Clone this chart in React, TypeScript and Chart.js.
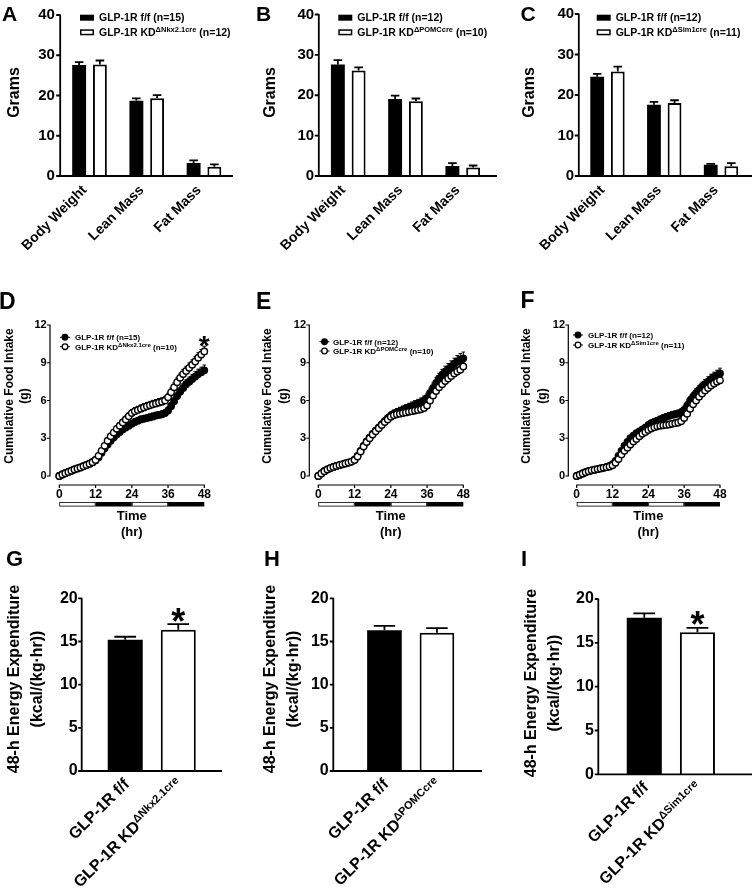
import React, { useEffect, useRef } from 'react';
import { Chart, registerables } from 'chart.js';

Chart.register(...registerables);

const FONT = "'Liberation Sans', Arial, Helvetica, sans-serif";
Chart.defaults.font.family = FONT;
Chart.defaults.font.weight = 'bold';
Chart.defaults.color = '#000';

const PAGE_W = 752;
const PAGE_H = 888;

// ================= DATA =================
const floxName = 'GLP-1R f/f';
const kdName = 'GLP-1R KD';
const nkxSup = '\u0394Nkx2.1cre';
const pomcSup = '\u0394POMCcre';
const sim1Sup = '\u0394Sim1cre';

// Panels A-C : body composition (grams)
const compCategories = ['Body Weight', 'Lean Mass', 'Fat Mass'];
const compYTicks = [0, 10, 20, 30, 40];

const aN = [15, 12];
const aFlox = [27.6, 18.7, 3.25];
const aFloxErr = [0.7, 0.6, 0.65];
const aKd = [27.7, 19.3, 2.3];
const aKdErr = [1.0, 0.8, 0.6];

const bN = [12, 10];
const bFlox = [27.6, 19.1, 2.5];
const bFloxErr = [1.1, 0.8, 0.7];
const bKd = [26.1, 18.5, 2.1];
const bKdErr = [0.8, 0.7, 0.5];

const cN = [12, 11];
const cFlox = [24.5, 17.6, 2.8];
const cFloxErr = [0.7, 0.7, 0.2];
const cKd = [25.8, 18.0, 2.4];
const cKdErr = [1.2, 0.7, 0.8];

// Panels D-F : cumulative food intake (g), hourly
const hours = [0, 1, 2, 3, 4, 5, 6, 7, 8, 9, 10, 11, 12, 13, 14, 15, 16, 17, 18, 19, 20, 21, 22, 23, 24, 25, 26, 27, 28, 29, 30, 31, 32, 33, 34, 35, 36, 37, 38, 39, 40, 41, 42, 43, 44, 45, 46, 47, 48];
const timeTicks = [0, 12, 24, 36, 48];
const intakeYTicks = [0, 3, 6, 9, 12];
const phaseStart = [0, 12, 24, 36];
const phaseEnd = [12, 24, 36, 48];
const phaseDark = [false, true, false, true];

const dN = [15, 10];
const dFlox = [0.0, 0.12, 0.22, 0.32, 0.42, 0.52, 0.6, 0.68, 0.78, 0.88, 0.98, 1.1, 1.25, 1.5, 1.85, 2.2, 2.5, 2.8, 3.05, 3.3, 3.5, 3.7, 3.85, 4.0, 4.15, 4.3, 4.4, 4.5, 4.55, 4.6, 4.67, 4.73, 4.8, 4.85, 4.9, 5.0, 5.2, 5.55, 5.95, 6.35, 6.7, 7.0, 7.3, 7.5, 7.7, 7.9, 8.1, 8.25, 8.4];
const dFloxErr = [0.02, 0.03, 0.04, 0.05, 0.05, 0.06, 0.06, 0.07, 0.07, 0.08, 0.08, 0.09, 0.1, 0.12, 0.14, 0.16, 0.18, 0.19, 0.2, 0.21, 0.22, 0.22, 0.23, 0.24, 0.24, 0.25, 0.25, 0.25, 0.26, 0.26, 0.26, 0.27, 0.27, 0.27, 0.28, 0.28, 0.29, 0.3, 0.31, 0.32, 0.33, 0.34, 0.35, 0.36, 0.37, 0.38, 0.39, 0.4, 0.42];
const dKd = [0.0, 0.12, 0.22, 0.32, 0.42, 0.52, 0.6, 0.68, 0.78, 0.88, 0.98, 1.1, 1.28, 1.6, 2.0, 2.4, 2.8, 3.15, 3.45, 3.75, 4.0, 4.25, 4.5, 4.75, 5.0, 5.15, 5.25, 5.35, 5.45, 5.55, 5.62, 5.7, 5.77, 5.84, 5.9, 6.0, 6.25, 6.65, 7.05, 7.45, 7.8, 8.1, 8.35, 8.6, 8.85, 9.1, 9.4, 9.65, 9.9];
const dKdErr = [0.02, 0.03, 0.04, 0.05, 0.06, 0.06, 0.07, 0.07, 0.08, 0.08, 0.09, 0.1, 0.1, 0.12, 0.15, 0.18, 0.2, 0.22, 0.23, 0.24, 0.25, 0.26, 0.27, 0.28, 0.28, 0.29, 0.29, 0.3, 0.3, 0.3, 0.31, 0.31, 0.31, 0.32, 0.32, 0.33, 0.33, 0.34, 0.35, 0.35, 0.36, 0.37, 0.37, 0.38, 0.38, 0.39, 0.4, 0.4, 0.41];
const dStarHours = [48];

const eN = [12, 10];
const eFlox = [0.0, 0.2, 0.38, 0.52, 0.63, 0.72, 0.8, 0.87, 0.93, 1.0, 1.07, 1.15, 1.3, 1.6, 2.0, 2.4, 2.75, 3.05, 3.35, 3.6, 3.85, 4.1, 4.35, 4.6, 4.8, 4.95, 5.05, 5.15, 5.25, 5.35, 5.45, 5.55, 5.65, 5.75, 5.85, 6.0, 6.2, 6.6, 7.0, 7.4, 7.75, 8.05, 8.3, 8.5, 8.7, 8.9, 9.1, 9.25, 9.35];
const eFloxErr = [0.03, 0.04, 0.05, 0.06, 0.06, 0.07, 0.07, 0.08, 0.08, 0.09, 0.09, 0.1, 0.11, 0.13, 0.16, 0.19, 0.21, 0.23, 0.24, 0.25, 0.26, 0.27, 0.28, 0.29, 0.3, 0.3, 0.31, 0.31, 0.32, 0.32, 0.33, 0.33, 0.34, 0.34, 0.35, 0.36, 0.37, 0.38, 0.39, 0.4, 0.41, 0.42, 0.43, 0.44, 0.45, 0.46, 0.47, 0.48, 0.5];
const eKd = [0.0, 0.2, 0.38, 0.52, 0.63, 0.72, 0.8, 0.87, 0.93, 1.0, 1.07, 1.15, 1.28, 1.55, 1.95, 2.35, 2.7, 3.0, 3.3, 3.55, 3.8, 4.05, 4.3, 4.5, 4.7, 4.82, 4.9, 4.95, 5.0, 5.05, 5.1, 5.15, 5.2, 5.25, 5.3, 5.4, 5.6, 6.0, 6.4, 6.75, 7.05, 7.3, 7.55, 7.75, 7.95, 8.15, 8.3, 8.45, 8.7];
const eKdErr = [0.03, 0.03, 0.04, 0.05, 0.05, 0.06, 0.06, 0.07, 0.07, 0.08, 0.08, 0.09, 0.1, 0.12, 0.14, 0.16, 0.18, 0.19, 0.2, 0.21, 0.22, 0.23, 0.23, 0.24, 0.25, 0.25, 0.26, 0.26, 0.26, 0.27, 0.27, 0.27, 0.28, 0.28, 0.28, 0.29, 0.29, 0.3, 0.3, 0.31, 0.31, 0.32, 0.32, 0.33, 0.33, 0.34, 0.34, 0.35, 0.35];
const eStarHours: number[] = [];

const fN = [12, 11];
const fFlox = [0.0, 0.1, 0.2, 0.3, 0.38, 0.45, 0.5, 0.55, 0.6, 0.65, 0.72, 0.8, 0.95, 1.2, 1.6, 2.0, 2.4, 2.7, 3.0, 3.2, 3.4, 3.55, 3.7, 3.85, 4.05, 4.2, 4.3, 4.4, 4.5, 4.6, 4.7, 4.78, 4.85, 4.9, 4.95, 5.05, 5.25, 5.6, 6.0, 6.3, 6.6, 6.85, 7.1, 7.3, 7.5, 7.7, 7.85, 8.0, 8.15];
const fFloxErr = [0.02, 0.03, 0.03, 0.04, 0.04, 0.05, 0.05, 0.06, 0.06, 0.07, 0.07, 0.08, 0.09, 0.11, 0.13, 0.15, 0.17, 0.18, 0.19, 0.2, 0.21, 0.22, 0.22, 0.23, 0.24, 0.24, 0.25, 0.25, 0.26, 0.26, 0.27, 0.27, 0.28, 0.28, 0.29, 0.29, 0.3, 0.31, 0.32, 0.33, 0.34, 0.35, 0.36, 0.37, 0.38, 0.39, 0.4, 0.41, 0.42];
const fKd = [0.0, 0.1, 0.2, 0.3, 0.38, 0.45, 0.5, 0.55, 0.6, 0.65, 0.7, 0.75, 0.85, 1.05, 1.35, 1.7, 2.0, 2.25, 2.5, 2.75, 2.95, 3.15, 3.35, 3.5, 3.65, 3.78, 3.88, 3.95, 4.0, 4.03, 4.06, 4.1, 4.15, 4.2, 4.25, 4.35, 4.6, 4.95, 5.35, 5.7, 6.0, 6.3, 6.55, 6.8, 7.0, 7.2, 7.35, 7.5, 7.6];
const fKdErr = [0.02, 0.02, 0.03, 0.03, 0.04, 0.04, 0.05, 0.05, 0.06, 0.06, 0.07, 0.07, 0.08, 0.1, 0.12, 0.14, 0.15, 0.16, 0.17, 0.18, 0.19, 0.2, 0.2, 0.21, 0.21, 0.22, 0.22, 0.23, 0.23, 0.23, 0.24, 0.24, 0.24, 0.25, 0.25, 0.26, 0.26, 0.27, 0.28, 0.28, 0.29, 0.3, 0.3, 0.31, 0.32, 0.32, 0.33, 0.34, 0.35];
const fStarHours: number[] = [];

// Panels G-I : 48-h energy expenditure (kcal/(kg·hr))
const eeYTicks = [0, 5, 10, 15, 20];
const gMean = [15.2, 16.35];
const gErr = [0.35, 0.65];
const gSig = ['', '*'];
const hMean = [16.3, 16.0];
const hErr = [0.5, 0.55];
const hSig = ['', ''];
const iMean = [17.85, 16.2];
const iErr = [0.5, 0.5];
const iSig = ['', '*'];

const gramsTitle = 'Grams';
const intakeTitle = ['Cumulative Food Intake', '(g)'];
const timeTitle = ['Time', '(hr)'];
const eeTitle = ['48-h Energy Expenditure', '(kcal/(kg\u00b7hr))'];

// ================= HELPERS =================
type Rich = { t: string; sup?: boolean };

function legendParts(n: number[], sup: string): Rich[][] {
  return [
    [{ t: `${floxName} (n=${n[0]})` }],
    [{ t: kdName }, { t: sup, sup: true }, { t: ` (n=${n[1]})` }],
  ];
}
function groupParts(sup: string): Rich[][] {
  return [[{ t: floxName }], [{ t: kdName }, { t: sup, sup: true }]];
}

function setFont(ctx: any, size: number) {
  ctx.font = `bold ${size}px ${FONT}`;
}
function richWidth(ctx: any, parts: Rich[], size: number, supSize: number) {
  let w = 0;
  for (const p of parts) {
    setFont(ctx, p.sup ? supSize : size);
    w += ctx.measureText(p.t).width;
  }
  return w;
}
function drawRich(ctx: any, parts: Rich[], x: number, y: number, size: number, supSize: number) {
  let cx = x;
  ctx.textAlign = 'left';
  ctx.textBaseline = 'alphabetic';
  for (const p of parts) {
    setFont(ctx, p.sup ? supSize : size);
    ctx.fillText(p.t, cx, p.sup ? y - size * 0.36 : y);
    cx += ctx.measureText(p.t).width;
  }
}

function drawErrors(chart: any, cfg: any) {
  const ctx = chart.ctx;
  const ys = chart.scales.y;
  ctx.save();
  ctx.strokeStyle = '#000';
  ctx.lineWidth = cfg.errWidth;
  chart.data.datasets.forEach((ds: any, di: number) => {
    if (!ds.errors) return;
    const meta = chart.getDatasetMeta(di);
    meta.data.forEach((el: any, i: number) => {
      const raw = ds.data[i];
      const v = typeof raw === 'number' ? raw : raw.y;
      const e = ds.errors[i];
      if (e == null) return;
      const x = el.x;
      const y0 = ys.getPixelForValue(v);
      const y1 = ys.getPixelForValue(v + e);
      const half = cfg.capHalf != null ? cfg.capHalf : el.width * cfg.capFrac;
      ctx.beginPath();
      ctx.moveTo(x, y0);
      ctx.lineTo(x, y1);
      ctx.moveTo(x - half, y1);
      ctx.lineTo(x + half, y1);
      ctx.stroke();
    });
  });
  ctx.restore();
}

function makePrism(cfg: any) {
  return {
    id: 'prism',
    beforeDatasetsDraw(chart: any) {
      if (cfg.errorsBelow) drawErrors(chart, cfg);
    },
    afterDatasetsDraw(chart: any) {
      if (!cfg.errorsBelow) drawErrors(chart, cfg);
    },
    afterDraw(chart: any) {
      const ctx = chart.ctx;
      const xs = chart.scales.x;
      const ys = chart.scales.y;
      ctx.save();
      ctx.fillStyle = '#000';
      ctx.strokeStyle = '#000';

      // ---- axes ----
      ctx.lineWidth = cfg.axisWidth;
      const yT = cfg.yTicks;
      const yTopPx = ys.getPixelForValue(yT[yT.length - 1]);
      const yBotPx = ys.getPixelForValue(yT[0]);
      const xAxisY = cfg.xAxisY != null ? cfg.xAxisY : yBotPx;
      ctx.beginPath();
      ctx.moveTo(cfg.yAxisX, yTopPx - 0.5);
      ctx.lineTo(cfg.yAxisX, cfg.xAxisY != null ? yBotPx + 0.5 : yBotPx + cfg.axisWidth / 2);
      for (const v of yT) {
        const py = ys.getPixelForValue(v);
        ctx.moveTo(cfg.yAxisX - cfg.yTickLen, py);
        ctx.lineTo(cfg.yAxisX, py);
      }
      if (cfg.xTicks) {
        const x0 = xs.getPixelForValue(cfg.xTicks[0]);
        const x1 = xs.getPixelForValue(cfg.xTicks[cfg.xTicks.length - 1]);
        ctx.moveTo(x0 - 0.5, xAxisY);
        ctx.lineTo(x1 + 0.5, xAxisY);
        for (const v of cfg.xTicks) {
          const px = xs.getPixelForValue(v);
          ctx.moveTo(px, xAxisY);
          ctx.lineTo(px, xAxisY + cfg.xTickLen);
        }
      } else {
        ctx.moveTo(cfg.yAxisX - cfg.axisWidth / 2, xAxisY);
        ctx.lineTo(cfg.xAxisRight, xAxisY);
      }
      ctx.stroke();

      // ---- light/dark phase bar ----
      if (cfg.phase) {
        const ph = cfg.phase;
        ctx.lineWidth = 0.8;
        for (let i = 0; i < ph.starts.length; i++) {
          const a = xs.getPixelForValue(ph.starts[i]);
          const b = xs.getPixelForValue(ph.ends[i]);
          if (ph.dark[i]) ctx.fillRect(a, ph.y, b - a, ph.h);
          else ctx.strokeRect(a + 0.4, ph.y + 0.4, b - a - 0.8, ph.h - 0.8);
        }
      }

      // ---- legend ----
      if (cfg.legend) {
        const L = cfg.legend;
        L.parts.forEach((parts: Rich[], i: number) => {
          const cy = L.rows[i];
          const filled = i === 0;
          if (L.marker === 'rect') {
            if (filled) {
              ctx.fillStyle = '#000';
              ctx.fillRect(L.mx, cy - L.mh / 2, L.mw, L.mh);
            } else {
              ctx.lineWidth = 1.5;
              ctx.fillStyle = '#fff';
              ctx.fillRect(L.mx, cy - L.mh / 2, L.mw, L.mh);
              ctx.strokeRect(L.mx + 0.75, cy - L.mh / 2 + 0.75, L.mw - 1.5, L.mh - 1.5);
            }
          } else {
            ctx.lineWidth = 1;
            ctx.beginPath();
            ctx.moveTo(L.mx - 5, cy);
            ctx.lineTo(L.mx + 5, cy);
            ctx.stroke();
            ctx.beginPath();
            ctx.arc(L.mx, cy, L.r, 0, Math.PI * 2);
            ctx.fillStyle = filled ? '#000' : '#fff';
            ctx.fill();
            ctx.lineWidth = 1.3;
            ctx.stroke();
          }
          ctx.fillStyle = '#000';
          drawRich(ctx, parts, L.tx, cy + L.size * 0.36, L.size, L.supSize);
        });
      }

      // ---- titles ----
      for (const t of cfg.titles) {
        setFont(ctx, t.size);
        ctx.textAlign = 'center';
        ctx.textBaseline = 'middle';
        ctx.save();
        ctx.translate(t.x, t.y);
        if (t.rot) ctx.rotate(-Math.PI / 2);
        ctx.fillText(t.text, 0, 0);
        ctx.restore();
      }

      // ---- rotated category labels (with superscripts) ----
      if (cfg.cat) {
        const C = cfg.cat;
        C.parts.forEach((parts: Rich[], i: number) => {
          const px = xs.getPixelForValue(i) + C.offX;
          const py = xAxisY + C.offY;
          const w = richWidth(ctx, parts, C.size, C.supSize);
          ctx.save();
          ctx.translate(px, py);
          ctx.rotate(-Math.PI / 4);
          drawRich(ctx, parts, -w, 0, C.size, C.supSize);
          ctx.restore();
        });
      }

      // ---- significance stars ----
      if (cfg.stars) {
        const S = cfg.stars;
        const ds = chart.data.datasets[S.ds];
        const meta = chart.getDatasetMeta(S.ds);
        setFont(ctx, S.size);
        ctx.textAlign = 'center';
        ctx.textBaseline = 'alphabetic';
        S.indices.forEach((i: number) => {
          const raw = ds.data[i];
          const v = typeof raw === 'number' ? raw : raw.y;
          const top = ys.getPixelForValue(v + ds.errors[i]);
          const cy = top - S.dy;
          ctx.fillText('*', meta.data[i].x, cy + S.size * 0.57);
        });
      }

      // ---- panel letter ----
      setFont(ctx, cfg.letter.size);
      ctx.textAlign = 'left';
      ctx.textBaseline = 'alphabetic';
      ctx.fillText(cfg.letter.text, cfg.letter.x, cfg.letter.y);

      ctx.restore();
    },
  };
}

function padFor(area: any, yW: number, xH: number) {
  return { left: area.l - yW, top: area.t, right: PAGE_W - area.r, bottom: PAGE_H - area.b - xH };
}

const noGrid = { display: false, drawTicks: false };
const noBorder = { display: false };

// ---------- body composition bars ----------
function compChart(canvas: HTMLCanvasElement, p: any) {
  const yW = 45;
  const xH = 92;
  const common = { categoryPercentage: 0.725, barPercentage: 0.67 };
  return new Chart(canvas, {
    type: 'bar',
    data: {
      labels: compCategories,
      datasets: [
        { data: p.flox, errors: p.floxErr, backgroundColor: '#000', borderColor: '#000', borderWidth: 0, ...common } as any,
        { data: p.kd, errors: p.kdErr, backgroundColor: '#fff', borderColor: '#000', borderWidth: 2, ...common } as any,
      ],
    },
    options: {
      responsive: false,
      animation: false,
      events: [],
      layout: { padding: padFor(p.area, yW, xH) },
      plugins: { legend: { display: false }, tooltip: { enabled: false } },
      scales: {
        x: {
          type: 'category',
          grid: noGrid,
          border: noBorder,
          ticks: { autoSkip: false, minRotation: 45, maxRotation: 45, padding: 6, labelOffset: -5, font: { size: 14, weight: 'bold' }, color: '#000' },
          afterFit: (s: any) => { s.height = xH; },
        },
        y: {
          type: 'linear',
          min: compYTicks[0],
          max: compYTicks[compYTicks.length - 1],
          grid: noGrid,
          border: noBorder,
          ticks: { padding: p.yPad, font: { size: 15, weight: 'bold' }, color: '#000' },
          afterBuildTicks: (s: any) => { s.ticks = compYTicks.map((v) => ({ value: v })); },
          afterFit: (s: any) => { s.width = yW; },
        },
      },
    } as any,
    plugins: [
      makePrism({
        axisWidth: 1.8,
        yTicks: compYTicks,
        yAxisX: p.yAxisX,
        yTickLen: 4,
        xAxisRight: p.xAxisRight,
        errWidth: 1.8,
        capFrac: 0.31,
        legend: { marker: 'rect', mx: p.legendX, mw: 14, mh: 6, tx: p.legendX + 19, rows: [17.7, 32.3], size: 10.5, supSize: 7.5, parts: p.legend },
        titles: [{ text: gramsTitle, x: p.titleX, y: 92.5, size: 16, rot: true }],
        letter: p.letter,
      }),
    ],
  });
}

// ---------- cumulative intake lines ----------
function intakeChart(canvas: HTMLCanvasElement, p: any) {
  const yW = 40;
  const xH = 64;
  const pts = (vals: number[]) => hours.map((h, i) => ({ x: h, y: vals[i] }));
  const lineStyle = { showLine: true, borderColor: '#000', borderWidth: 1, pointRadius: 3.2, pointBorderColor: '#000', pointBorderWidth: 1.4, tension: 0, clip: false };
  const midX = (p.area.l + p.area.r) / 2;
  return new Chart(canvas, {
    type: 'line',
    data: {
      datasets: [
        { data: pts(p.flox), errors: p.floxErr, pointBackgroundColor: '#000', backgroundColor: '#000', order: 2, ...lineStyle } as any,
        { data: pts(p.kd), errors: p.kdErr, pointBackgroundColor: '#fff', backgroundColor: '#fff', order: 1, ...lineStyle } as any,
      ],
    },
    options: {
      responsive: false,
      animation: false,
      events: [],
      layout: { padding: padFor(p.area, yW, xH) },
      plugins: { legend: { display: false }, tooltip: { enabled: false } },
      scales: {
        x: {
          type: 'linear',
          min: timeTicks[0],
          max: timeTicks[timeTicks.length - 1],
          grid: noGrid,
          border: noBorder,
          ticks: { padding: 11.5, maxRotation: 0, autoSkip: false, font: { size: 12, weight: 'bold' }, color: '#000' },
          afterBuildTicks: (s: any) => { s.ticks = timeTicks.map((v) => ({ value: v })); },
          afterFit: (s: any) => { s.height = xH; },
        },
        y: {
          type: 'linear',
          min: intakeYTicks[0],
          max: intakeYTicks[intakeYTicks.length - 1],
          grid: noGrid,
          border: noBorder,
          ticks: { padding: p.yPad, font: { size: 11, weight: 'bold' }, color: '#000' },
          afterBuildTicks: (s: any) => { s.ticks = intakeYTicks.map((v) => ({ value: v })); },
          afterFit: (s: any) => { s.width = yW; },
        },
      },
    } as any,
    plugins: [
      makePrism({
        axisWidth: 1.2,
        yTicks: intakeYTicks,
        yAxisX: p.yAxisX,
        yTickLen: 3,
        xAxisY: 485,
        xTicks: timeTicks,
        xTickLen: 3,
        errorsBelow: true,
        errWidth: 1,
        capHalf: 1.8,
        phase: { starts: phaseStart, ends: phaseEnd, dark: phaseDark, y: 502, h: 4.5 },
        legend: { marker: 'circle', mx: p.legendX, r: 2.8, tx: p.legendTx, rows: p.legendRows, size: 8, supSize: 6, parts: p.legend },
        titles: [
          { text: intakeTitle[0], x: p.titleX, y: 396, size: 12, rot: true },
          { text: intakeTitle[1], x: p.titleX + 15.5, y: 396, size: 12, rot: true },
          { text: timeTitle[0], x: midX, y: 516, size: 13 },
          { text: timeTitle[1], x: midX, y: 532, size: 13 },
        ],
        stars: { ds: 1, indices: p.starIdx, dy: 7.5, size: 28 },
        letter: p.letter,
      }),
    ],
  });
}

// ---------- energy expenditure bars ----------
function eeChart(canvas: HTMLCanvasElement, p: any) {
  const yW = 60;
  const xH = 60;
  const sigIdx = p.sig.map((s: string, i: number) => (s ? i : -1)).filter((i: number) => i >= 0);
  return new Chart(canvas, {
    type: 'bar',
    data: {
      labels: [floxName, kdName],
      datasets: [
        { data: p.mean, errors: p.err, backgroundColor: ['#000', '#fff'], borderColor: '#000', borderWidth: [0, 2], categoryPercentage: 1, barPercentage: 0.66 } as any,
      ],
    },
    options: {
      responsive: false,
      animation: false,
      events: [],
      layout: { padding: padFor(p.area, yW, xH) },
      plugins: { legend: { display: false }, tooltip: { enabled: false } },
      scales: {
        x: {
          type: 'category',
          grid: noGrid,
          border: noBorder,
          ticks: { display: false },
          afterFit: (s: any) => { s.height = xH; },
        },
        y: {
          type: 'linear',
          min: eeYTicks[0],
          max: eeYTicks[eeYTicks.length - 1],
          grid: noGrid,
          border: noBorder,
          ticks: { padding: p.yPad, font: { size: 16, weight: 'bold' }, color: '#000' },
          afterBuildTicks: (s: any) => { s.ticks = eeYTicks.map((v) => ({ value: v })); },
          afterFit: (s: any) => { s.width = yW; },
        },
      },
    } as any,
    plugins: [
      makePrism({
        axisWidth: 1.8,
        yTicks: eeYTicks,
        yAxisX: p.yAxisX,
        yTickLen: 3.5,
        xAxisRight: p.xAxisRight,
        errWidth: 1.8,
        capFrac: 0.31,
        titles: [
          { text: eeTitle[0], x: p.titleX, y: p.titleY, size: 16, rot: true },
          { text: eeTitle[1], x: p.titleX + 23, y: p.titleY, size: 16, rot: true },
        ],
        cat: { parts: p.cat, size: 16, supSize: 11, offX: 5, offY: 14 },
        stars: { ds: 0, indices: sigIdx, dy: 11, size: 36 },
        letter: p.letter,
      }),
    ],
  });
}

// ================= PANELS =================
const panelBuilders: ((c: HTMLCanvasElement) => Chart)[] = [
  (c) => compChart(c, {
    area: { l: 60.9, r: 232.6, t: 12, b: 176 }, flox: aFlox, floxErr: aFloxErr, kd: aKd, kdErr: aKdErr,
    yPad: 6, yAxisX: 60.2, xAxisRight: 233, legendX: 80, legend: legendParts(aN, nkxSup),
    titleX: 14.5, letter: { text: 'A', x: 2, y: 21, size: 21 },
  }),
  (c) => compChart(c, {
    area: { l: 319.6, r: 491.4, t: 12, b: 176 }, flox: bFlox, floxErr: bFloxErr, kd: bKd, kdErr: bKdErr,
    yPad: 5.5, yAxisX: 318.8, xAxisRight: 497, legendX: 338.3, legend: legendParts(bN, pomcSup),
    titleX: 270.7, letter: { text: 'B', x: 256, y: 20.5, size: 21 },
  }),
  (c) => compChart(c, {
    area: { l: 579.1, r: 749.4, t: 12, b: 176 }, flox: cFlox, floxErr: cFloxErr, kd: cKd, kdErr: cKdErr,
    yPad: 5, yAxisX: 578.8, xAxisRight: 752, legendX: 596.7, legend: legendParts(cN, sim1Sup),
    titleX: 530, letter: { text: 'C', x: 520.5, y: 20.7, size: 21 },
  }),
  (c) => intakeChart(c, {
    area: { l: 59.3, r: 204.3, t: 325, b: 476 }, flox: dFlox, floxErr: dFloxErr, kd: dKd, kdErr: dKdErr,
    yPad: 12.6, yAxisX: 50, legendX: 65, legendTx: 75, legendRows: [337.3, 346.7], legend: legendParts(dN, nkxSup),
    titleX: 9.3, starIdx: dStarHours.map((h) => hours.indexOf(h)), letter: { text: 'D', x: -1, y: 308.5, size: 23 },
  }),
  (c) => intakeChart(c, {
    area: { l: 318.3, r: 463.3, t: 325, b: 476 }, flox: eFlox, floxErr: eFloxErr, kd: eKd, kdErr: eKdErr,
    yPad: 12.3, yAxisX: 309.3, legendX: 324.5, legendTx: 333, legendRows: [341.7, 351], legend: legendParts(eN, pomcSup),
    titleX: 268, starIdx: eStarHours.map((h) => hours.indexOf(h)), letter: { text: 'E', x: 256, y: 308.5, size: 23 },
  }),
  (c) => intakeChart(c, {
    area: { l: 576.7, r: 720, t: 325, b: 476 }, flox: fFlox, floxErr: fFloxErr, kd: fKd, kdErr: fKdErr,
    yPad: 11.7, yAxisX: 568.3, legendX: 578, legendTx: 588, legendRows: [335, 345], legend: legendParts(fN, sim1Sup),
    titleX: 526.7, starIdx: fStarHours.map((h) => hours.indexOf(h)), letter: { text: 'F', x: 520.5, y: 308, size: 23 },
  }),
  (c) => eeChart(c, {
    area: { l: 98.7, r: 204.8, t: 598.3, b: 771 }, mean: gMean, err: gErr, sig: gSig,
    yPad: 21, yAxisX: 81.7, xAxisRight: 222, titleX: 14.5, titleY: 679, cat: groupParts(nkxSup),
    letter: { text: 'G', x: 6, y: 566, size: 22 },
  }),
  (c) => eeChart(c, {
    area: { l: 358.2, r: 463.2, t: 598.3, b: 771 }, mean: hMean, err: hErr, sig: hSig,
    yPad: 29.5, yAxisX: 333.3, xAxisRight: 482, titleX: 270.7, titleY: 679, cat: groupParts(pomcSup),
    letter: { text: 'H', x: 264, y: 566, size: 22 },
  }),
  (c) => eeChart(c, {
    area: { l: 617.7, r: 724, t: 599, b: 774.3 }, mean: iMean, err: iErr, sig: iSig,
    yPad: 23.8, yAxisX: 598.3, xAxisRight: 752, titleX: 531.7, titleY: 683, cat: groupParts(sim1Sup),
    letter: { text: 'I', x: 521, y: 566, size: 22 },
  }),
];

function ChartCanvas({ build }: { build: (c: HTMLCanvasElement) => Chart }) {
  const ref = useRef<HTMLCanvasElement>(null);
  useEffect(() => {
    const chart = build(ref.current as HTMLCanvasElement);
    return () => chart.destroy();
  }, [build]);
  return (
    <canvas
      ref={ref}
      width={PAGE_W}
      height={PAGE_H}
      style={{ position: 'absolute', left: 0, top: 0, width: PAGE_W, height: PAGE_H }}
    />
  );
}

export default function App() {
  return (
    <div style={{ position: 'absolute', left: 0, top: 0, width: PAGE_W, height: PAGE_H, background: '#fff', overflow: 'hidden' }}>
      {panelBuilders.map((b, i) => (
        <ChartCanvas key={i} build={b} />
      ))}
    </div>
  );
}
